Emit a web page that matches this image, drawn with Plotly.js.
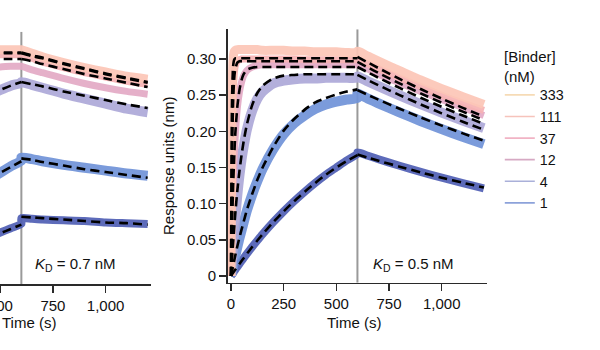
<!DOCTYPE html>
<html>
<head>
<meta charset="utf-8">
<script src="https://cdn.plot.ly/plotly-3.0.1.min.js"></script>
<style>html,body{margin:0;padding:0;background:#fff}#chart{width:600px;height:350px}</style>
</head>
<body>
<div id="chart"></div>
<script>
// ---------- data ----------
const concentrations = ['333', '111', '37', '12', '4', '1'];
const xTickVals = [0, 250, 500, 750, 1000];
const xTickText = ['0', '250', '500', '750', '1,000'];
const yTickVals = [0, 0.05, 0.10, 0.15, 0.20, 0.25, 0.30];
const yTickText = ['0', '0.05', '0.10', '0.15', '0.20', '0.25', '0.30'];

// right panel (KD = 0.5 nM)
const tAssocR = [0, 5, 10, 15, 20, 30, 40, 50, 60, 75, 100, 125, 150, 200, 250, 300, 350, 400, 450, 500, 550, 600];
const tDissoc = [600, 650, 700, 800, 900, 1000, 1100, 1200];

const raw333A = [0, 0.25, 0.30, 0.31, 0.312, 0.313, 0.313, 0.313, 0.313, 0.313, 0.313, 0.313, 0.312, 0.312, 0.312, 0.311, 0.311, 0.310, 0.310, 0.310, 0.309, 0.309];
const raw111A = [0, 0.17, 0.245, 0.278, 0.29, 0.297, 0.299, 0.30, 0.30, 0.30, 0.30, 0.30, 0.30, 0.30, 0.30, 0.30, 0.299, 0.299, 0.299, 0.299, 0.299, 0.299];
const raw37A  = [0, 0.07, 0.124, 0.163, 0.193, 0.232, 0.254, 0.268, 0.277, 0.284, 0.289, 0.291, 0.292, 0.292, 0.292, 0.292, 0.292, 0.292, 0.292, 0.292, 0.292, 0.292];
const raw12A  = [0, 0.022, 0.043, 0.062, 0.08, 0.112, 0.139, 0.161, 0.179, 0.202, 0.228, 0.245, 0.255, 0.266, 0.27, 0.272, 0.273, 0.273, 0.274, 0.274, 0.274, 0.274];
const raw4A   = [0, 0.007, 0.014, 0.021, 0.027, 0.04, 0.052, 0.063, 0.074, 0.09, 0.112, 0.131, 0.148, 0.175, 0.196, 0.211, 0.222, 0.231, 0.237, 0.241, 0.244, 0.246];
const raw1A   = [0, 0.0022, 0.0043, 0.0064, 0.0085, 0.0126, 0.0167, 0.0207, 0.0246, 0.0305, 0.040, 0.049, 0.0578, 0.0742, 0.0894, 0.1035, 0.1165, 0.1287, 0.140, 0.150, 0.160, 0.169];

const raw333D = [0.311, 0.304, 0.297, 0.284, 0.271, 0.259, 0.248, 0.237];
const raw111D = [0.300, 0.293, 0.287, 0.274, 0.262, 0.250, 0.239, 0.229];
const raw37D  = [0.292, 0.286, 0.279, 0.267, 0.255, 0.244, 0.233, 0.222];
const raw12D  = [0.276, 0.269, 0.2625, 0.2497, 0.2376, 0.226, 0.215, 0.2045];
const raw4D   = [0.252, 0.2453, 0.2387, 0.2262, 0.2143, 0.203, 0.1924, 0.1823];
const raw1D   = [0.171, 0.1662, 0.1614, 0.1524, 0.1439, 0.1359, 0.1283, 0.1211];

const fit333A = [0, 0.245, 0.29, 0.299, 0.301, 0.301, 0.301, 0.301, 0.301, 0.301, 0.301, 0.301, 0.301, 0.301, 0.301, 0.301, 0.301, 0.301, 0.301, 0.301, 0.301, 0.301];
const fit111A = [0, 0.168, 0.241, 0.273, 0.286, 0.295, 0.297, 0.297, 0.297, 0.297, 0.297, 0.297, 0.297, 0.297, 0.297, 0.297, 0.297, 0.297, 0.297, 0.297, 0.297, 0.297];
const fit37A  = [0, 0.071, 0.124, 0.163, 0.195, 0.234, 0.257, 0.271, 0.279, 0.285, 0.288, 0.289, 0.289, 0.289, 0.289, 0.289, 0.289, 0.289, 0.289, 0.289, 0.289, 0.289];
const fit12A  = [0, 0.024, 0.046, 0.066, 0.085, 0.118, 0.145, 0.167, 0.186, 0.209, 0.236, 0.253, 0.263, 0.273, 0.277, 0.278, 0.279, 0.279, 0.279, 0.279, 0.279, 0.279];
const fit4A   = [0, 0.007, 0.014, 0.021, 0.028, 0.041, 0.053, 0.064, 0.075, 0.091, 0.113, 0.133, 0.15, 0.178, 0.201, 0.217, 0.230, 0.240, 0.246, 0.251, 0.255, 0.258];
const fit1A   = [0, 0.0022, 0.0043, 0.0064, 0.0085, 0.0126, 0.0167, 0.0207, 0.0246, 0.0305, 0.040, 0.049, 0.0578, 0.0742, 0.0894, 0.1035, 0.1165, 0.1287, 0.140, 0.150, 0.159, 0.167];

const fit333D = [0.303, 0.2951, 0.2874, 0.2725, 0.2585, 0.2452, 0.2325, 0.2205];
const fit111D = [0.296, 0.2883, 0.2807, 0.2663, 0.2525, 0.2395, 0.2272, 0.2154];
const fit37D  = [0.289, 0.2815, 0.2741, 0.2600, 0.2465, 0.2338, 0.2218, 0.2103];
const fit12D  = [0.278, 0.2707, 0.2637, 0.2501, 0.2372, 0.2249, 0.2133, 0.2023];
const fit4D   = [0.257, 0.2503, 0.2437, 0.2312, 0.2192, 0.2079, 0.1972, 0.1870];
const fit1D   = [0.168, 0.1636, 0.1593, 0.1511, 0.1433, 0.1359, 0.1289, 0.1223];

// left panel (KD = 0.7 nM), only t >= ~500 s visible
const tAssocL = [450, 500, 550, 600];
const lraw333A = [0.313, 0.313, 0.313, 0.313];
const lraw111A = [0.306, 0.306, 0.306, 0.306];
const lraw37A  = [0.289, 0.289, 0.29, 0.29];
const lraw12A  = [0.25, 0.257, 0.263, 0.267];
const lraw4A   = [0.133, 0.142, 0.151, 0.159];
const lraw1A   = [0.053, 0.059, 0.065, 0.071];
const lraw333D = [0.313, 0.308, 0.303, 0.295, 0.288, 0.282, 0.276, 0.272];
const lraw111D = [0.306, 0.301, 0.296, 0.288, 0.281, 0.275, 0.269, 0.265];
const lraw37D  = [0.29, 0.285, 0.281, 0.273, 0.266, 0.26, 0.255, 0.251];
const lraw12D  = [0.268, 0.264, 0.26, 0.252, 0.245, 0.238, 0.231, 0.226];
const lraw4D   = [0.163, 0.161, 0.158, 0.153, 0.149, 0.145, 0.141, 0.138];
const lraw1D   = [0.079, 0.078, 0.077, 0.076, 0.075, 0.073, 0.072, 0.071];

const lfit333A = [0.309, 0.309, 0.309, 0.309];
const lfit111A = [0.308, 0.308, 0.308, 0.308];
const lfit37A  = [0.299, 0.30, 0.30, 0.30];
const lfit12A  = [0.25, 0.257, 0.263, 0.268];
const lfit4A   = [0.134, 0.142, 0.15, 0.158];
const lfit1A   = [0.052, 0.058, 0.064, 0.07];
const lfit333D = [0.309, 0.305, 0.302, 0.294, 0.287, 0.28, 0.274, 0.268];
const lfit111D = [0.308, 0.304, 0.301, 0.293, 0.286, 0.279, 0.273, 0.267];
const lfit37D  = [0.30, 0.297, 0.293, 0.286, 0.279, 0.273, 0.267, 0.261];
const lfit12D  = [0.268, 0.265, 0.262, 0.255, 0.249, 0.243, 0.237, 0.232];
const lfit4D   = [0.162, 0.16, 0.157, 0.152, 0.147, 0.143, 0.139, 0.135];
const lfit1D   = [0.081, 0.08, 0.079, 0.077, 0.075, 0.073, 0.072, 0.07];

// ---------- styles ----------
const rawColors = ['#fcc6b6', '#f6b2b3', '#e3a9c4', '#aca8d8', '#7092d8', '#4f5eb4'];
const rawWidths = [9, 7, 7, 10, 10, 8];
const legendColors = ['#f6dbb6', '#f6c3bb', '#f1b3c4', '#d6a9c3', '#aab0d9', '#8ca2da'];
const FONT = 'Liberation Sans, Arial, Helvetica, sans-serif';

const rightRaw = [[raw333A, raw333D], [raw111A, raw111D], [raw37A, raw37D], [raw12A, raw12D], [raw4A, raw4D], [raw1A, raw1D]];
const rightFit = [[fit333A, fit333D], [fit111A, fit111D], [fit37A, fit37D], [fit12A, fit12D], [fit4A, fit4D], [fit1A, fit1D]];
const leftRaw = [[lraw333A, lraw333D], [lraw111A, lraw111D], [lraw37A, lraw37D], [lraw12A, lraw12D], [lraw4A, lraw4D], [lraw1A, lraw1D]];
const leftFit = [[lfit333A, lfit333D], [lfit111A, lfit111D], [lfit37A, lfit37D], [lfit12A, lfit12D], [lfit4A, lfit4D], [lfit1A, lfit1D]];

const traces = [];
const SMOOTH = {shape: 'spline', smoothing: 0.6};
function addPanel(raws, fits, tA, xa, ya) {
  // raw traces drawn from lowest to highest signal
  for (let i = raws.length - 1; i >= 0; i--) {
    traces.push({
      type: 'scatter', mode: 'lines', xaxis: xa, yaxis: ya, showlegend: false, hoverinfo: 'skip',
      x: tA.concat(tDissoc), y: raws[i][0].concat(raws[i][1]), opacity: 0.92,
      line: Object.assign({color: rawColors[i], width: rawWidths[i]}, SMOOTH)
    });
  }
  for (let i = fits.length - 1; i >= 0; i--) {
    traces.push({
      type: 'scatter', mode: 'lines', xaxis: xa, yaxis: ya, showlegend: false, hoverinfo: 'skip',
      x: tA.concat([null], tDissoc), y: fits[i][0].concat([null], fits[i][1]),
      connectgaps: false,
      line: Object.assign({color: '#000', width: 2.6, dash: '9px,5px'}, SMOOTH)
    });
  }
}
addPanel(leftRaw, leftFit, tAssocL, 'x2', 'y2');
addPanel(rightRaw, rightFit, tAssocR, 'x', 'y');
concentrations.forEach((c, i) => {
  traces.push({type: 'scatter', mode: 'lines', x: [null], y: [null], name: c, showlegend: true,
    line: {color: legendColors[i], width: 1.6}});
});

const axisCommon = {
  showline: true, linecolor: '#2a2a2a', linewidth: 1.6, ticks: 'outside', ticklen: 7, tickwidth: 1.5,
  tickcolor: '#2a2a2a', showgrid: false, zeroline: false, tickfont: {family: FONT, size: 15, color: '#111'},
  ticklabeloverflow: 'allow', fixedrange: true
};

const layout = {
  width: 600, height: 350, margin: {l: 0, r: 0, t: 0, b: 0},
  paper_bgcolor: '#fff', plot_bgcolor: 'rgba(0,0,0,0)',
  font: {family: FONT, size: 15, color: '#111'},
  xaxis: Object.assign({}, axisCommon, {domain: [0.3795, 0.8112], anchor: 'y', range: [-15.7, 1213.6],
    tickmode: 'array', tickvals: xTickVals, ticktext: xTickText}),
  yaxis: Object.assign({}, axisCommon, {domain: [0.1923, 0.9163], anchor: 'x', range: [-0.0093, 0.3411],
    tickmode: 'array', tickvals: yTickVals, ticktext: yTickText}),
  xaxis2: Object.assign({}, axisCommon, {domain: [0, 0.2512], anchor: 'y2', range: [498.5, 1214.6],
    tickmode: 'array', tickvals: xTickVals, ticktext: xTickText}),
  yaxis2: {domain: [0.1877, 0.9094], anchor: 'x2', range: [-0.0129, 0.3379], visible: false, fixedrange: true},
  showlegend: true,
  legend: {x: 0.833, y: 0.774, xanchor: 'left', yanchor: 'top', font: {family: FONT, size: 14.3, color: '#111'},
    bgcolor: 'rgba(0,0,0,0)', tracegroupgap: 0, itemclick: false},
  shapes: [
    {type: 'line', xref: 'x', yref: 'y', x0: 600, x1: 600, y0: -0.0093, y1: 0.3411, line: {color: '#9a9a9a', width: 2}, layer: 'below'},
    {type: 'line', xref: 'x2', yref: 'y2', x0: 600, x1: 600, y0: -0.0129, y1: 0.3379, line: {color: '#9a9a9a', width: 2}, layer: 'below'}
  ],
  annotations: [
    {text: 'Time (s)', xref: 'paper', yref: 'paper', x: 0.59, y: 0.08, showarrow: false, xanchor: 'center', yanchor: 'middle', font: {size: 15}},
    {text: 'Time (s)', xref: 'paper', yref: 'paper', x: 0.0483, y: 0.08, showarrow: false, xanchor: 'center', yanchor: 'middle', font: {size: 15}},
    {text: 'Response units (nm)', xref: 'paper', yref: 'paper', x: 0.28, y: 0.5257, textangle: -90, showarrow: false, xanchor: 'center', yanchor: 'middle', font: {size: 15}},
    {text: '<i>K</i><sub>D</sub> = 0.5 nM', xref: 'paper', yref: 'paper', x: 0.618, y: 0.2457, showarrow: false, xanchor: 'left', yanchor: 'middle', font: {size: 15}},
    {text: '<i>K</i><sub>D</sub> = 0.7 nM', xref: 'paper', yref: 'paper', x: 0.055, y: 0.2429, showarrow: false, xanchor: 'left', yanchor: 'middle', font: {size: 15}},
    {text: '[Binder]<br>(nM)', xref: 'paper', yref: 'paper', x: 0.8367, y: 0.8086, showarrow: false, xanchor: 'left', yanchor: 'middle', align: 'left', font: {size: 15}}
  ]
};

Plotly.newPlot('chart', traces, layout, {staticPlot: true, displayModeBar: false});
</script>
</body>
</html>
